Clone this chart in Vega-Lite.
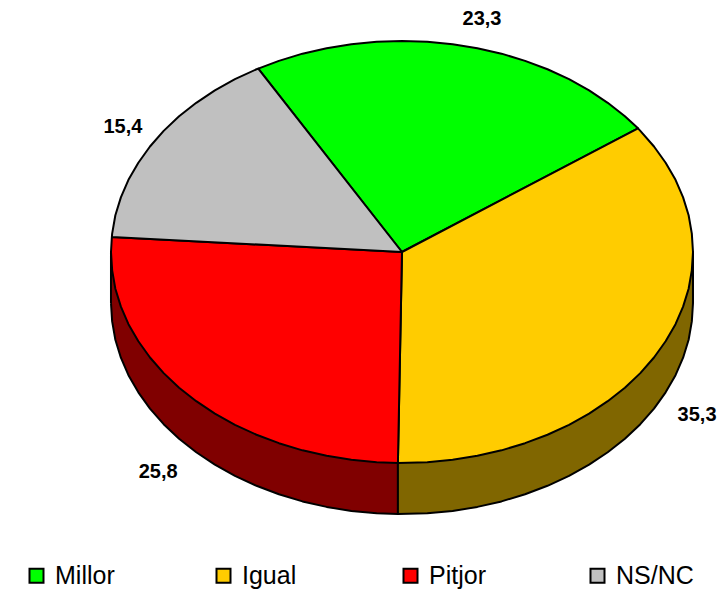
{"$schema":"https://vega.github.io/schema/vega-lite/v6.json","width":728,"height":591,"autosize":{"type":"fit","contains":"padding"},"padding":0,"background":"white","view":{"stroke":null},
"datasets":{"sides":[
{"slice":"Pitjor","i":0,"u":-1,"v":-0.242},{"slice":"Pitjor","i":1,"u":-0.996,"v":-0.329},{"slice":"Pitjor","i":2,"u":-0.985,"v":-0.416},{"slice":"Pitjor","i":3,"u":-0.966,"v":-0.501},{"slice":"Pitjor","i":4,"u":-0.94,"v":-0.584},{"slice":"Pitjor","i":5,"u":-0.906,"v":-0.665},{"slice":"Pitjor","i":6,"u":-0.866,"v":-0.742},{"slice":"Pitjor","i":7,"u":-0.819,"v":-0.816},{"slice":"Pitjor","i":8,"u":-0.766,"v":-0.885},{"slice":"Pitjor","i":9,"u":-0.707,"v":-0.949},{"slice":"Pitjor","i":10,"u":-0.643,"v":-1.008},{"slice":"Pitjor","i":11,"u":-0.574,"v":-1.061},{"slice":"Pitjor","i":12,"u":-0.5,"v":-1.108},{"slice":"Pitjor","i":13,"u":-0.423,"v":-1.148},{"slice":"Pitjor","i":14,"u":-0.342,"v":-1.182},{"slice":"Pitjor","i":15,"u":-0.259,"v":-1.208},{"slice":"Pitjor","i":16,"u":-0.174,"v":-1.227},{"slice":"Pitjor","i":17,"u":-0.087,"v":-1.238},{"slice":"Pitjor","i":18,"u":-0.014,"v":-1.242},{"slice":"Pitjor","i":19,"u":-0.014,"v":-1},{"slice":"Pitjor","i":20,"u":-1,"v":0},{"slice":"Pitjor","i":21,"u":-1,"v":-0.242},
{"slice":"Igual","i":0,"u":-0.014,"v":-1.242},{"slice":"Igual","i":1,"u":0.087,"v":-1.238},{"slice":"Igual","i":2,"u":0.174,"v":-1.227},{"slice":"Igual","i":3,"u":0.259,"v":-1.208},{"slice":"Igual","i":4,"u":0.342,"v":-1.182},{"slice":"Igual","i":5,"u":0.423,"v":-1.148},{"slice":"Igual","i":6,"u":0.5,"v":-1.108},{"slice":"Igual","i":7,"u":0.574,"v":-1.061},{"slice":"Igual","i":8,"u":0.643,"v":-1.008},{"slice":"Igual","i":9,"u":0.707,"v":-0.949},{"slice":"Igual","i":10,"u":0.766,"v":-0.885},{"slice":"Igual","i":11,"u":0.819,"v":-0.816},{"slice":"Igual","i":12,"u":0.866,"v":-0.742},{"slice":"Igual","i":13,"u":0.906,"v":-0.665},{"slice":"Igual","i":14,"u":0.94,"v":-0.584},{"slice":"Igual","i":15,"u":0.966,"v":-0.501},{"slice":"Igual","i":16,"u":0.985,"v":-0.416},{"slice":"Igual","i":17,"u":0.996,"v":-0.329},{"slice":"Igual","i":18,"u":1,"v":-0.242},{"slice":"Igual","i":19,"u":1,"v":0},{"slice":"Igual","i":20,"u":-0.014,"v":-1},{"slice":"Igual","i":21,"u":-0.014,"v":-1.242}
],
"slices":[
{"slice":"Millor","i":0,"u":0,"v":0},{"slice":"Millor","i":1,"u":0.811,"v":0.586},{"slice":"Millor","i":2,"u":0.766,"v":0.643},{"slice":"Millor","i":3,"u":0.707,"v":0.707},{"slice":"Millor","i":4,"u":0.643,"v":0.766},{"slice":"Millor","i":5,"u":0.574,"v":0.819},{"slice":"Millor","i":6,"u":0.5,"v":0.866},{"slice":"Millor","i":7,"u":0.423,"v":0.906},{"slice":"Millor","i":8,"u":0.342,"v":0.94},{"slice":"Millor","i":9,"u":0.259,"v":0.966},{"slice":"Millor","i":10,"u":0.174,"v":0.985},{"slice":"Millor","i":11,"u":0.087,"v":0.996},{"slice":"Millor","i":12,"u":0,"v":1},{"slice":"Millor","i":13,"u":-0.087,"v":0.996},{"slice":"Millor","i":14,"u":-0.174,"v":0.985},{"slice":"Millor","i":15,"u":-0.259,"v":0.966},{"slice":"Millor","i":16,"u":-0.342,"v":0.94},{"slice":"Millor","i":17,"u":-0.423,"v":0.906},{"slice":"Millor","i":18,"u":-0.494,"v":0.869},{"slice":"Millor","i":19,"u":0,"v":0},{"slice":"Millor","i":20,"u":0.811,"v":0.586},
{"slice":"Igual","i":0,"u":0,"v":0},{"slice":"Igual","i":1,"u":-0.014,"v":-1},{"slice":"Igual","i":2,"u":0.087,"v":-0.996},{"slice":"Igual","i":3,"u":0.174,"v":-0.985},{"slice":"Igual","i":4,"u":0.259,"v":-0.966},{"slice":"Igual","i":5,"u":0.342,"v":-0.94},{"slice":"Igual","i":6,"u":0.423,"v":-0.906},{"slice":"Igual","i":7,"u":0.5,"v":-0.866},{"slice":"Igual","i":8,"u":0.574,"v":-0.819},{"slice":"Igual","i":9,"u":0.643,"v":-0.766},{"slice":"Igual","i":10,"u":0.707,"v":-0.707},{"slice":"Igual","i":11,"u":0.766,"v":-0.643},{"slice":"Igual","i":12,"u":0.819,"v":-0.574},{"slice":"Igual","i":13,"u":0.866,"v":-0.5},{"slice":"Igual","i":14,"u":0.906,"v":-0.423},{"slice":"Igual","i":15,"u":0.94,"v":-0.342},{"slice":"Igual","i":16,"u":0.966,"v":-0.259},{"slice":"Igual","i":17,"u":0.985,"v":-0.174},{"slice":"Igual","i":18,"u":0.996,"v":-0.087},{"slice":"Igual","i":19,"u":1,"v":0},{"slice":"Igual","i":20,"u":0.996,"v":0.087},{"slice":"Igual","i":21,"u":0.985,"v":0.174},{"slice":"Igual","i":22,"u":0.966,"v":0.259},{"slice":"Igual","i":23,"u":0.94,"v":0.342},{"slice":"Igual","i":24,"u":0.906,"v":0.423},{"slice":"Igual","i":25,"u":0.866,"v":0.5},{"slice":"Igual","i":26,"u":0.819,"v":0.574},{"slice":"Igual","i":27,"u":0.811,"v":0.586},{"slice":"Igual","i":28,"u":0,"v":0},{"slice":"Igual","i":29,"u":-0.014,"v":-1},
{"slice":"Pitjor","i":0,"u":0,"v":0},{"slice":"Pitjor","i":1,"u":-0.997,"v":0.071},{"slice":"Pitjor","i":2,"u":-1,"v":0},{"slice":"Pitjor","i":3,"u":-0.996,"v":-0.087},{"slice":"Pitjor","i":4,"u":-0.985,"v":-0.174},{"slice":"Pitjor","i":5,"u":-0.966,"v":-0.259},{"slice":"Pitjor","i":6,"u":-0.94,"v":-0.342},{"slice":"Pitjor","i":7,"u":-0.906,"v":-0.423},{"slice":"Pitjor","i":8,"u":-0.866,"v":-0.5},{"slice":"Pitjor","i":9,"u":-0.819,"v":-0.574},{"slice":"Pitjor","i":10,"u":-0.766,"v":-0.643},{"slice":"Pitjor","i":11,"u":-0.707,"v":-0.707},{"slice":"Pitjor","i":12,"u":-0.643,"v":-0.766},{"slice":"Pitjor","i":13,"u":-0.574,"v":-0.819},{"slice":"Pitjor","i":14,"u":-0.5,"v":-0.866},{"slice":"Pitjor","i":15,"u":-0.423,"v":-0.906},{"slice":"Pitjor","i":16,"u":-0.342,"v":-0.94},{"slice":"Pitjor","i":17,"u":-0.259,"v":-0.966},{"slice":"Pitjor","i":18,"u":-0.174,"v":-0.985},{"slice":"Pitjor","i":19,"u":-0.087,"v":-0.996},{"slice":"Pitjor","i":20,"u":-0.014,"v":-1},{"slice":"Pitjor","i":21,"u":0,"v":0},{"slice":"Pitjor","i":22,"u":-0.997,"v":0.071},
{"slice":"NS/NC","i":0,"u":0,"v":0},{"slice":"NS/NC","i":1,"u":-0.494,"v":0.869},{"slice":"NS/NC","i":2,"u":-0.5,"v":0.866},{"slice":"NS/NC","i":3,"u":-0.574,"v":0.819},{"slice":"NS/NC","i":4,"u":-0.643,"v":0.766},{"slice":"NS/NC","i":5,"u":-0.707,"v":0.707},{"slice":"NS/NC","i":6,"u":-0.766,"v":0.643},{"slice":"NS/NC","i":7,"u":-0.819,"v":0.574},{"slice":"NS/NC","i":8,"u":-0.866,"v":0.5},{"slice":"NS/NC","i":9,"u":-0.906,"v":0.423},{"slice":"NS/NC","i":10,"u":-0.94,"v":0.342},{"slice":"NS/NC","i":11,"u":-0.966,"v":0.259},{"slice":"NS/NC","i":12,"u":-0.985,"v":0.174},{"slice":"NS/NC","i":13,"u":-0.996,"v":0.087},{"slice":"NS/NC","i":14,"u":-0.997,"v":0.071},{"slice":"NS/NC","i":15,"u":0,"v":0},{"slice":"NS/NC","i":16,"u":-0.494,"v":0.869}
],
"labels":[{"slice":"Millor","value":"23,3","u":0.275,"v":1.104},{"slice":"Igual","value":"35,3","u":1.014,"v":-0.773},{"slice":"Pitjor","value":"25,8","u":-0.838,"v":-1.043},{"slice":"NS/NC","value":"15,4","u":-0.959,"v":0.592}]},
"encoding":{
"x":{"field":"u","type":"quantitative","axis":null,"scale":{"domain":[-1.3814,1.1203],"zero":false,"nice":false}},
"y":{"field":"v","type":"quantitative","axis":null,"scale":{"domain":[-1.6066,1.1943],"zero":false,"nice":false}}},
"layer":[
{"data":{"name":"sides"},"mark":{"type":"line","stroke":"black","strokeWidth":2,"strokeJoin":"round"},"encoding":{"order":{"field":"i","type":"quantitative"},"fill":{"field":"slice","type":"nominal","legend":null,"scale":{"domain":["Pitjor","Igual"],"range":["#800000","#806600"]}}}},
{"data":{"name":"slices"},"mark":{"type":"line","stroke":"black","strokeWidth":2,"strokeJoin":"round"},"encoding":{"order":{"field":"i","type":"quantitative"},"fill":{"field":"slice","type":"nominal","scale":{"domain":["Millor","Igual","Pitjor","NS/NC"],"range":["#00ff00","#ffcc00","#ff0000","#c0c0c0"]},"legend":{"title":null,"orient":"none","legendX":24,"legendY":563,"direction":"horizontal","columns":4,"gridAlign":"all","columnPadding":78,"padding":0,"symbolType":"square","symbolSize":196,"symbolStrokeColor":"black","symbolStrokeWidth":2,"symbolOpacity":1,"labelFont":"Liberation Sans","labelFontSize":25,"labelColor":"black","labelOffset":6,"labelLimit":200}}}},
{"data":{"name":"labels"},"mark":{"type":"text","font":"Liberation Sans","fontWeight":"bold","fontSize":20,"color":"black","align":"center","baseline":"middle"},"encoding":{"text":{"field":"value","type":"nominal"}}}
],
"resolve":{"scale":{"fill":"independent"}},
"config":{"style":{"cell":{"stroke":null}}}}
